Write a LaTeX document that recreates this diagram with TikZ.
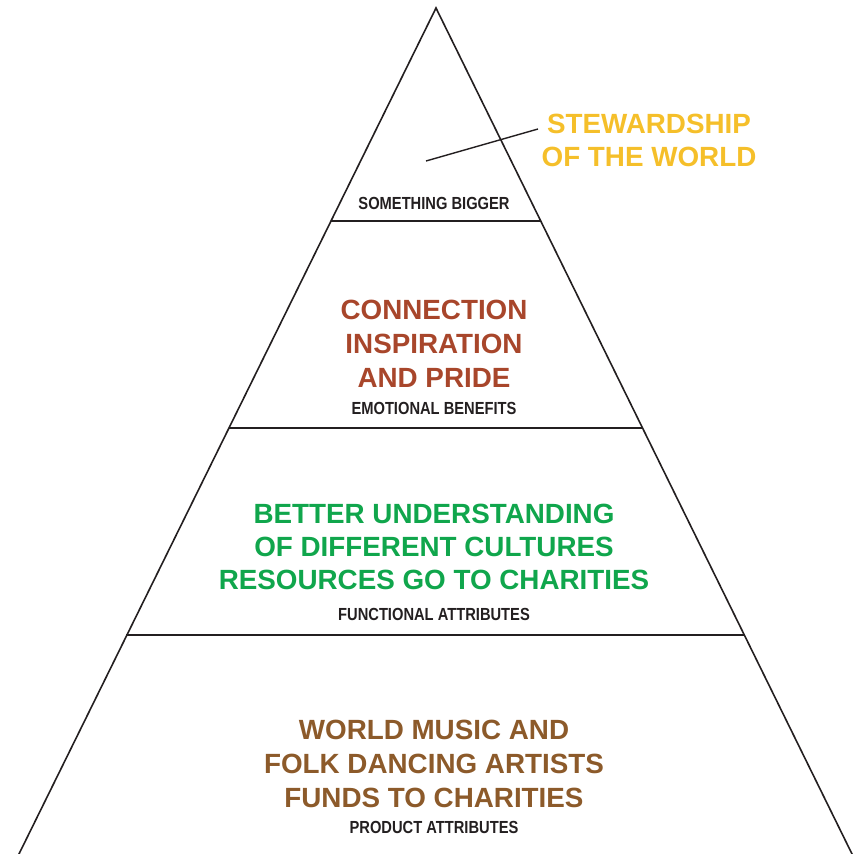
\documentclass[tikz,border=0pt]{standalone}
\usepackage{fontspec}
\setmainfont{Liberation Sans}
\definecolor{ink}{HTML}{231F20}
\definecolor{gold}{HTML}{F5BF2A}
\definecolor{rust}{HTML}{A8462B}
\definecolor{leaf}{HTML}{10A64C}
\definecolor{bark}{HTML}{8C5A2A}
\newcommand{\narrowlabel}[1]{\scalebox{0.84}[1]{#1}}
\begin{document}
\begin{tikzpicture}[x=1pt,y=-1pt,
  edge/.style={draw=ink,line width=1.6pt},
  big/.style={anchor=base,inner sep=0pt,font=\fontsize{27.8}{33}\selectfont\bfseries},
  tag/.style={anchor=base,inner sep=0pt,text=ink,font=\fontsize{17.5}{20}\selectfont\bfseries}]
\useasboundingbox (0,0) rectangle (854,854);
% pyramid outline
\coordinate (apex) at (436,8);
\coordinate (bl) at (18,856);
\coordinate (br) at (853,856);
\draw[edge,line join=miter] (bl) -- (apex) -- (br);
% tier dividers
\coordinate (d1l) at (330.8,221);
\coordinate (d1r) at (540.9,221);
\coordinate (d2l) at (228.5,428);
\coordinate (d2r) at (642.5,428);
\coordinate (d3l) at (126.3,635);
\coordinate (d3r) at (744.2,635);
\draw[edge] (d1l) -- (d1r);
\draw[edge] (d2l) -- (d2r);
\draw[edge] (d3l) -- (d3r);
% top tier
\node[big,text=gold] (s1) at (649,133) {STEWARDSHIP};
\node[big,text=gold] (s2) at (649,166) {OF THE WORLD};
\coordinate (lead) at (426,161);
\coordinate (leadend) at (538,129);
\draw[edge,line width=1.4pt] (lead) -- (leadend);
\node[tag] (t1) at (434,209) {\narrowlabel{SOMETHING BIGGER}};
% emotional tier
\node[big,text=rust] (e1) at (434,319) {CONNECTION};
\node[big,text=rust] (e2) at (434,353) {INSPIRATION};
\node[big,text=rust] (e3) at (434,387) {AND PRIDE};
\node[tag] (t2) at (434,414) {\narrowlabel{EMOTIONAL BENEFITS}};
% functional tier
\node[big,text=leaf] (f1) at (434,523) {BETTER UNDERSTANDING};
\node[big,text=leaf] (f2) at (434,556) {OF DIFFERENT CULTURES};
\node[big,text=leaf] (f3) at (434,589) {RESOURCES GO TO CHARITIES};
\node[tag] (t3) at (434,620) {\narrowlabel{FUNCTIONAL ATTRIBUTES}};
% product tier
\node[big,text=bark] (p1) at (434,739) {WORLD MUSIC AND};
\node[big,text=bark] (p2) at (434,773) {FOLK DANCING ARTISTS};
\node[big,text=bark] (p3) at (434,807) {FUNDS TO CHARITIES};
\node[tag] (t4) at (434,833) {\narrowlabel{PRODUCT ATTRIBUTES}};
\end{tikzpicture}
\end{document}
